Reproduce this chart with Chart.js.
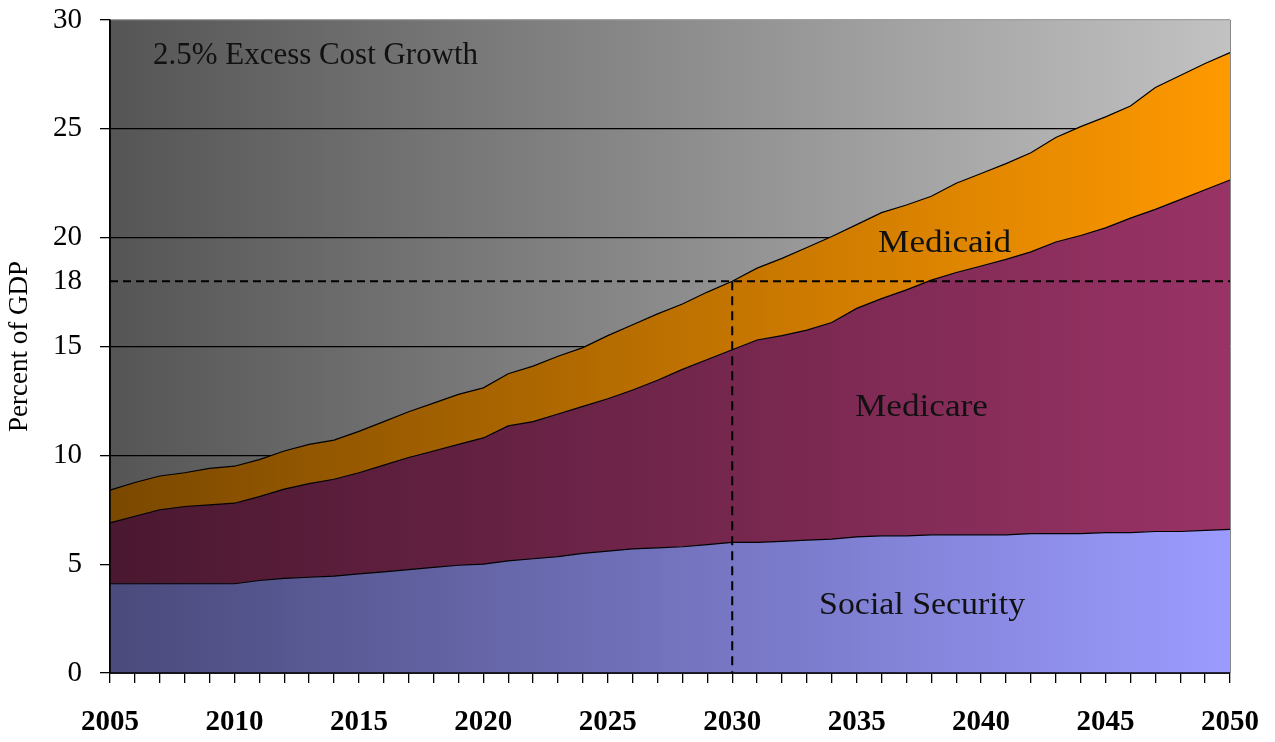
<!DOCTYPE html>
<html>
<head>
<meta charset="utf-8">
<script src="https://cdn.jsdelivr.net/npm/chart.js@4.4.0/dist/chart.umd.min.js"></script>
<style>
  html, body { margin: 0; padding: 0; background: #fff; }
  #wrap { width: 1275px; height: 742px; }
</style>
</head>
<body>
<div id="wrap"><canvas id="chart"></canvas></div>
<script>
// Spending as percent of GDP, 2.5% excess cost growth scenario
const years = [
  '2005', '2006', '2007', '2008', '2009', '2010', '2011', '2012', '2013', '2014',
  '2015', '2016', '2017', '2018', '2019', '2020', '2021', '2022', '2023', '2024',
  '2025', '2026', '2027', '2028', '2029', '2030', '2031', '2032', '2033', '2034',
  '2035', '2036', '2037', '2038', '2039', '2040', '2041', '2042', '2043', '2044',
  '2045', '2046', '2047', '2048', '2049', '2050'
];

const socialSecurity = [
  4.1, 4.1, 4.1, 4.1, 4.1, 4.1, 4.25, 4.35, 4.4, 4.45,
  4.55, 4.65, 4.75, 4.85, 4.95, 5.0, 5.15, 5.25, 5.35, 5.5,
  5.6, 5.7, 5.75, 5.8, 5.9, 6.0, 6.0, 6.05, 6.1, 6.15,
  6.25, 6.3, 6.3, 6.35, 6.35, 6.35, 6.35, 6.4, 6.4, 6.4,
  6.45, 6.45, 6.5, 6.5, 6.55, 6.6
];

const medicare = [
  2.8, 3.1, 3.4, 3.55, 3.62, 3.7, 3.85, 4.1, 4.3, 4.45,
  4.65, 4.9, 5.15, 5.35, 5.55, 5.8, 6.2, 6.3, 6.55, 6.75,
  7.0, 7.3, 7.7, 8.15, 8.5, 8.85, 9.3, 9.45, 9.65, 9.95,
  10.5, 10.9, 11.3, 11.7, 12.05, 12.35, 12.65, 12.95, 13.4, 13.7,
  14.0, 14.45, 14.8, 15.25, 15.65, 16.05
];

const medicaid = [
  1.5, 1.55, 1.55, 1.55, 1.68, 1.7, 1.7, 1.75, 1.8, 1.8,
  1.9, 2.0, 2.1, 2.2, 2.3, 2.3, 2.4, 2.55, 2.65, 2.7,
  2.9, 3.0, 3.05, 3.0, 3.1, 3.15, 3.3, 3.55, 3.8, 3.95,
  3.85, 3.95, 3.9, 3.85, 4.1, 4.25, 4.4, 4.55, 4.8, 5.0,
  5.1, 5.15, 5.6, 5.7, 5.8, 5.85
];

const yTickValues = [0, 5, 10, 15, 18, 20, 25, 30];
const targetLevel = 18;
const targetYear = '2030';

const serif = "'Liberation Serif', 'Times New Roman', serif";

// left-to-right gradient, dark at the axis side
function hGradient(chart, dark, light) {
  const { ctx, chartArea } = chart;
  if (!chartArea) return light;
  const g = ctx.createLinearGradient(chartArea.left, 0, chartArea.right, 0);
  g.addColorStop(0, dark);
  g.addColorStop(1, light);
  return g;
}

// draw text squeezed/stretched to a given width
function fitText(ctx, text, left, baseline, width, font) {
  ctx.save();
  ctx.font = font;
  const w = ctx.measureText(text).width;
  ctx.translate(left, baseline);
  ctx.scale(width / w, 1);
  ctx.fillText(text, 0, 0);
  ctx.restore();
}

const backgroundPlugin = {
  id: 'plotBackground',
  beforeDraw(chart) {
    const { ctx, chartArea: a } = chart;
    ctx.save();
    ctx.fillStyle = hGradient(chart, '#555555', '#c2c2c2');
    ctx.fillRect(a.left, a.top, a.right - a.left, a.bottom - a.top);
    ctx.restore();
  }
};

const overlayPlugin = {
  id: 'overlay',
  afterDatasetsDraw(chart) {
    const { ctx, chartArea: a, scales: { x, y } } = chart;
    const yT = y.getPixelForValue(targetLevel);
    const xT = x.getPixelForValue(years.indexOf(targetYear));
    ctx.save();

    // 18% reference lines
    ctx.strokeStyle = '#000';
    ctx.lineWidth = 2;
    ctx.setLineDash([8, 5]);
    ctx.beginPath();
    ctx.moveTo(a.left, yT);
    ctx.lineTo(a.right, yT);
    ctx.stroke();
    ctx.setLineDash([9, 6]);
    ctx.beginPath();
    ctx.moveTo(xT, yT);
    ctx.lineTo(xT, a.bottom);
    ctx.stroke();
    ctx.setLineDash([]);

    // frame
    ctx.strokeStyle = '#888';
    ctx.lineWidth = 1;
    ctx.beginPath();
    ctx.moveTo(a.right + 0.5, a.top);
    ctx.lineTo(a.right + 0.5, a.bottom);
    ctx.stroke();
    ctx.strokeStyle = '#000';
    ctx.lineWidth = 1.5;
    ctx.beginPath();
    ctx.moveTo(a.left, a.top);
    ctx.lineTo(a.left, a.bottom);
    ctx.lineTo(a.right, a.bottom);
    ctx.stroke();

    // labels
    ctx.fillStyle = '#111';
    ctx.textAlign = 'left';
    ctx.textBaseline = 'alphabetic';
    const font = '31px ' + serif;
    fitText(ctx, '2.5% Excess Cost Growth', x.getPixelForValue(1.73), y.getPixelForValue(27.97), 325, font);
    fitText(ctx, 'Medicaid', x.getPixelForValue(30.86), y.getPixelForValue(19.34), 133, font);
    fitText(ctx, 'Medicare', x.getPixelForValue(29.93), y.getPixelForValue(11.8), 133, font);
    fitText(ctx, 'Social Security', x.getPixelForValue(28.49), y.getPixelForValue(2.71), 206, font);
    ctx.restore();
  }
};

new Chart(document.getElementById('chart'), {
  type: 'line',
  data: {
    labels: years,
    datasets: [
      {
        label: 'Social Security',
        data: socialSecurity,
        fill: 'origin',
        backgroundColor: c => hGradient(c.chart, '#4a4a7c', '#9b9bff'),
        borderColor: '#000',
        borderWidth: 1.2
      },
      {
        label: 'Medicare',
        data: medicare,
        fill: '-1',
        backgroundColor: c => hGradient(c.chart, '#4a1830', '#993366'),
        borderColor: '#000',
        borderWidth: 1.2
      },
      {
        label: 'Medicaid',
        data: medicaid,
        fill: '-1',
        backgroundColor: c => hGradient(c.chart, '#7a4800', '#ff9900'),
        borderColor: '#000',
        borderWidth: 1.2
      }
    ]
  },
  options: {
    responsive: true,
    maintainAspectRatio: false,
    animation: false,
    layout: { padding: { top: 20, right: 45, left: 0, bottom: 0 } },
    elements: {
      line: { tension: 0 },
      point: { radius: 0, hoverRadius: 0 }
    },
    plugins: {
      legend: { display: false },
      tooltip: { enabled: false }
    },
    scales: {
      x: {
        offset: false,
        afterFit: s => {
          s.height = 69;
          s.paddingLeft = 0;
          s.paddingRight = 0;
        },
        grid: {
          drawOnChartArea: false,
          color: '#000',
          tickLength: 10,
          lineWidth: 1.3
        },
        border: { color: '#000', width: 1.5 },
        ticks: {
          autoSkip: false,
          maxRotation: 0,
          padding: 22,
          color: '#000',
          font: { family: serif, size: 29, weight: 'bold' },
          callback: (v, i) => (Number(years[i]) % 5 === 0 ? years[i] : '')
        }
      },
      y: {
        stacked: true,
        min: 0,
        max: 30,
        afterFit: s => {
          s.width = 110;
          s.paddingTop = 0;
          s.paddingBottom = 0;
        },
        afterBuildTicks: s => { s.ticks = yTickValues.map(v => ({ value: v })); },
        grid: {
          color: c => (c.tick.value === targetLevel ? 'rgba(0,0,0,0)' : (c.tick.value === 30 ? '#a0a0a0' : '#000')),
          tickColor: c => (c.tick.value === targetLevel ? 'rgba(0,0,0,0)' : '#000'),
          tickLength: 10,
          lineWidth: 1.3
        },
        border: { color: '#000', width: 1.5 },
        title: {
          display: true,
          text: 'Percent of GDP',
          color: '#000',
          padding: { top: 4, bottom: 0 },
          font: { family: serif, size: 27 }
        },
        ticks: {
          padding: 18,
          color: '#000',
          font: { family: serif, size: 29 }
        }
      }
    }
  },
  plugins: [backgroundPlugin, overlayPlugin]
});
</script>
</body>
</html>
